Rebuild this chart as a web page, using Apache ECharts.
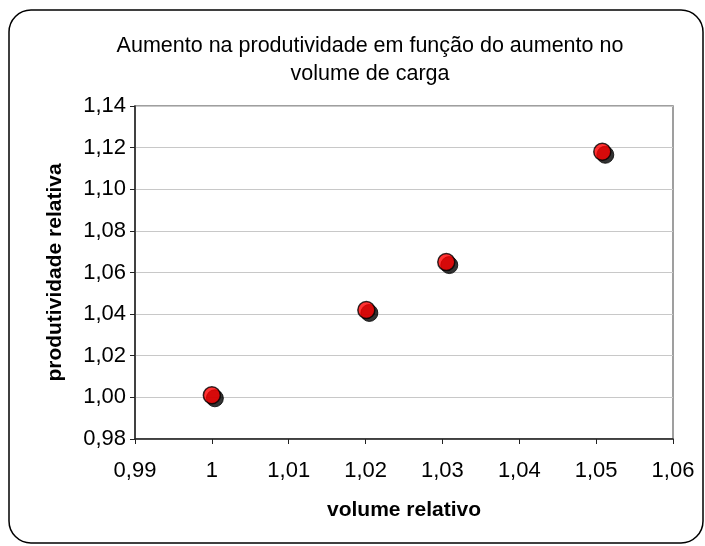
<!DOCTYPE html>
<html>
<head>
<meta charset="utf-8">
<script src="https://cdn.jsdelivr.net/npm/echarts@6/dist/echarts.min.js"></script>
<style>
html,body{margin:0;padding:0;background:#fff;}
#chart{width:705px;height:546px;}
</style>
</head>
<body>
<div id="chart"></div>
<script>
var titleLines = ['Aumento na produtividade em função do aumento no', 'volume de carga'];
var xName = 'volume relativo';
var yName = 'produtividade relativa';
var volumeRelativo = [1.000, 1.0201, 1.0305, 1.0508];
var produtividadeRelativa = [1.001, 1.042, 1.065, 1.118];

var points = volumeRelativo.map(function (v, i) { return [v, produtividadeRelativa[i]]; });

var chart = echarts.init(document.getElementById('chart'), null, {renderer: 'canvas'});
var font = 'Liberation Sans, Arial, sans-serif';
chart.setOption({
  animation: false,
  backgroundColor: '#ffffff',
  graphic: [{
    type: 'rect', silent: true, z: -10,
    shape: {x: 9, y: 10, width: 694, height: 533, r: 22},
    style: {fill: '#ffffff', stroke: '#000000', lineWidth: 1.5}
  }],
  title: {
    text: titleLines.join('\n'),
    left: 365, top: 27, textAlign: 'center',
    textStyle: {fontFamily: font, fontSize: 21.5, fontWeight: 'normal', color: '#000', lineHeight: 28}
  },
  grid: {left: 135, right: 32, top: 106, bottom: 107, show: true, borderColor: '#808080', borderWidth: 1.5, backgroundColor: 'transparent'},
  xAxis: {
    type: 'value', min: 0.99, max: 1.06, interval: 0.01,
    name: xName, nameLocation: 'middle', nameGap: 61,
    nameTextStyle: {fontFamily: font, fontSize: 21, fontWeight: 'bold', color: '#000'},
    axisLine: {show: true, onZero: false, lineStyle: {color: '#222', width: 1.5}},
    axisTick: {show: true, inside: false, length: 5, lineStyle: {color: '#222', width: 1}},
    axisLabel: {fontFamily: font, fontSize: 22, color: '#000', margin: 21, formatter: function (v) { return Math.abs(v - 1) < 1e-9 ? '1' : v.toFixed(2).replace('.', ','); }},
    splitLine: {show: false}
  },
  yAxis: {
    type: 'value', min: 0.98, max: 1.14, interval: 0.02,
    name: yName, nameLocation: 'middle', nameGap: 69,
    nameTextStyle: {fontFamily: font, fontSize: 21, fontWeight: 'bold', color: '#000'},
    axisLine: {show: true, onZero: false, lineStyle: {color: '#222', width: 1.5}},
    axisTick: {show: true, inside: false, length: 5, lineStyle: {color: '#222', width: 1}},
    axisLabel: {fontFamily: font, fontSize: 22, color: '#000', margin: 9, formatter: function (v) { return v.toFixed(2).replace('.', ','); }},
    splitLine: {show: true, lineStyle: {color: '#c8c8c8', width: 1}}
  },
  series: [{
    type: 'scatter', data: points, symbol: 'circle', symbolSize: 17, symbolOffset: [3, 3],
    itemStyle: {color: '#000000', borderColor: '#000000', borderWidth: 1},
    z: 2
  }, {
    type: 'scatter', data: points, symbol: 'circle', symbolSize: 17,
    itemStyle: {color: '#ff0000', borderColor: '#000000', borderWidth: 1.5},
    z: 3
  }]
});
</script>
</body>
</html>
